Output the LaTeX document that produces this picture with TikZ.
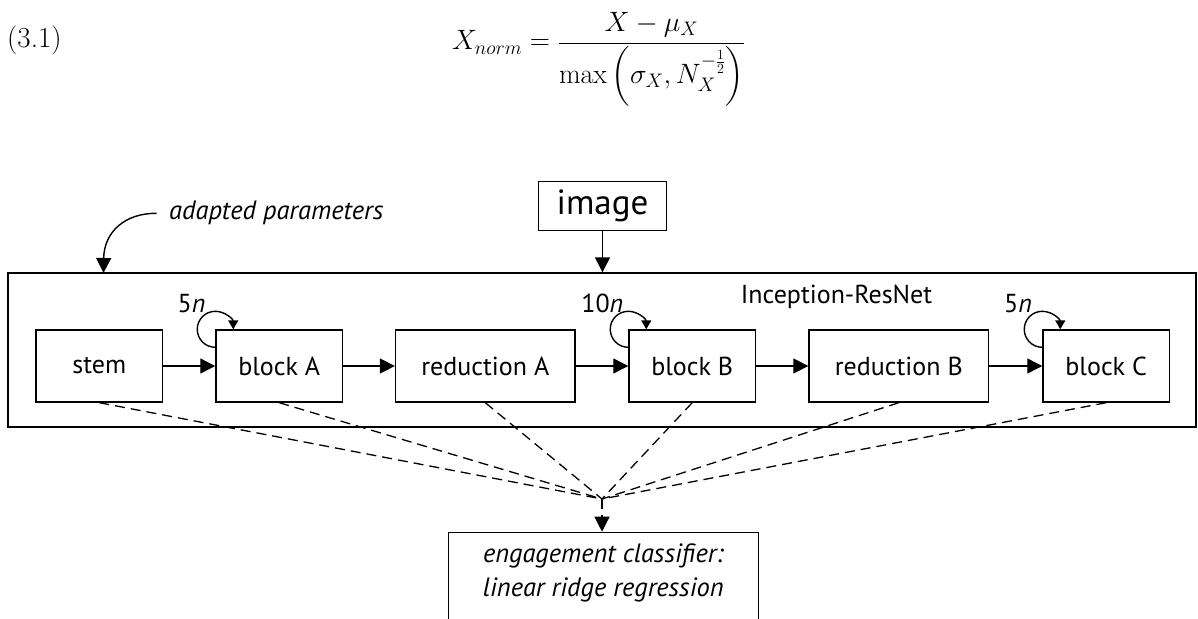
\RequirePackage{fix-cm}
\documentclass[tikz,border=0pt]{standalone}
\usepackage{amsmath}
\usepackage{fontspec}
\setsansfont{PT Sans}
\usetikzlibrary{arrows.meta}
\begin{document}
\begin{tikzpicture}[x=1pt,y=1pt,
  box/.style={draw, line width=1.4pt, inner sep=0pt, minimum height=72pt, font=\sffamily\fontsize{26}{31}\selectfont},
  blockbox/.style={box, minimum width=126.5pt},
  redbox/.style={box, minimum width=179.5pt},
  flow/.style={line width=1.4pt, -{Triangle[length=15pt,width=15pt]}},
  loopar/.style={line width=1.4pt, -{Triangle[length=9pt,width=10pt]}},
  feat/.style={line width=1.3pt, dash pattern=on 10pt off 6pt},
  lbl/.style={font=\sffamily\fontsize{26}{31}\selectfont, inner sep=0pt},
  itlbl/.style={font=\sffamily\itshape\fontsize{26.5}{33.3}\selectfont, inner sep=0pt}
]
\path[use as bounding box, clip] (0,0) rectangle (1198,-618);
% equation
\node[anchor=base west, inner sep=0pt, font=\fontsize{29}{34}\selectfont] (eqno) at (7,-48) {(3.1)};
\node[anchor=base west, inner sep=0pt, font=\fontsize{28}{33}\selectfont] (eq) at (452,-50)
  {$\displaystyle X_{norm}=\frac{X-\mu_X}{\max\left(\sigma_X, N_X^{-\frac{1}{2}}\right)}$};
% network
\node[draw, line width=1.4pt, minimum width=1188pt, minimum height=154pt, inner sep=0pt] (net) at (602,-350) {};
\node[lbl] (netlabel) at (836.5,-297) {Inception-ResNet};
\node[box, minimum width=128.4pt, minimum height=49pt, font=\sffamily\fontsize{35}{40}\selectfont] (img) at (602.5,-206.2) {image};
\node[blockbox] (stem) at (99.3,-366) {stem};
\node[blockbox] (bA) at (279.2,-366) {block A};
\node[redbox] (rA) at (485.3,-366) {reduction A};
\node[blockbox] (bB) at (692.2,-366) {block B};
\node[redbox] (rB) at (898.8,-366) {reduction B};
\node[blockbox] (bC) at (1106.2,-366) {block C};
\draw[flow] (stem) -- (bA);
\draw[flow] (bA) -- (rA);
\draw[flow] (rA) -- (bB);
\draw[flow] (bB) -- (rB);
\draw[flow] (rB) -- (bC);
% loops
\foreach \b in {bA,bB,bC}
  \draw[loopar] (\b.north west) ++(0,-18) arc[start angle=-90, end angle=-360, radius=18];
\node[lbl] (nA) at (191.5,-304) {5\textit{n}};
\node[lbl] (nB) at (602.3,-303) {10\textit{n}};
\node[lbl] (nC) at (1018,-304) {5\textit{n}};
% adapted parameters
\node[itlbl, anchor=west] (adp) at (169,-213) {adapted parameters};
\coordinate (adps) at (156.7,-213.3);
\coordinate (adpt) at (103.5,-273);
\draw[flow] (adps) .. controls (125,-213) and (104,-232) .. (adpt);
% image arrow
\draw[flow] (img.south) -- (img.south |- net.north);
% classifier
\coordinate (conv) at (602,-499);
\node[draw, line width=1.4pt, minimum width=310pt, minimum height=140pt, anchor=north, inner sep=0pt] (clf) at (603.3,-531.7) {};
\node[itlbl, align=center, anchor=north] (clftext) at (603.3,-544) {engagement classifier:\\linear ridge regression};
\foreach \n in {stem,bA,rA,bB,rB,bC}
  \draw[feat] (\n.south) -- (conv);
\draw[feat, -{Triangle[length=15pt,width=15pt]}] (conv) -- (conv |- clf.north);
\end{tikzpicture}
\end{document}
